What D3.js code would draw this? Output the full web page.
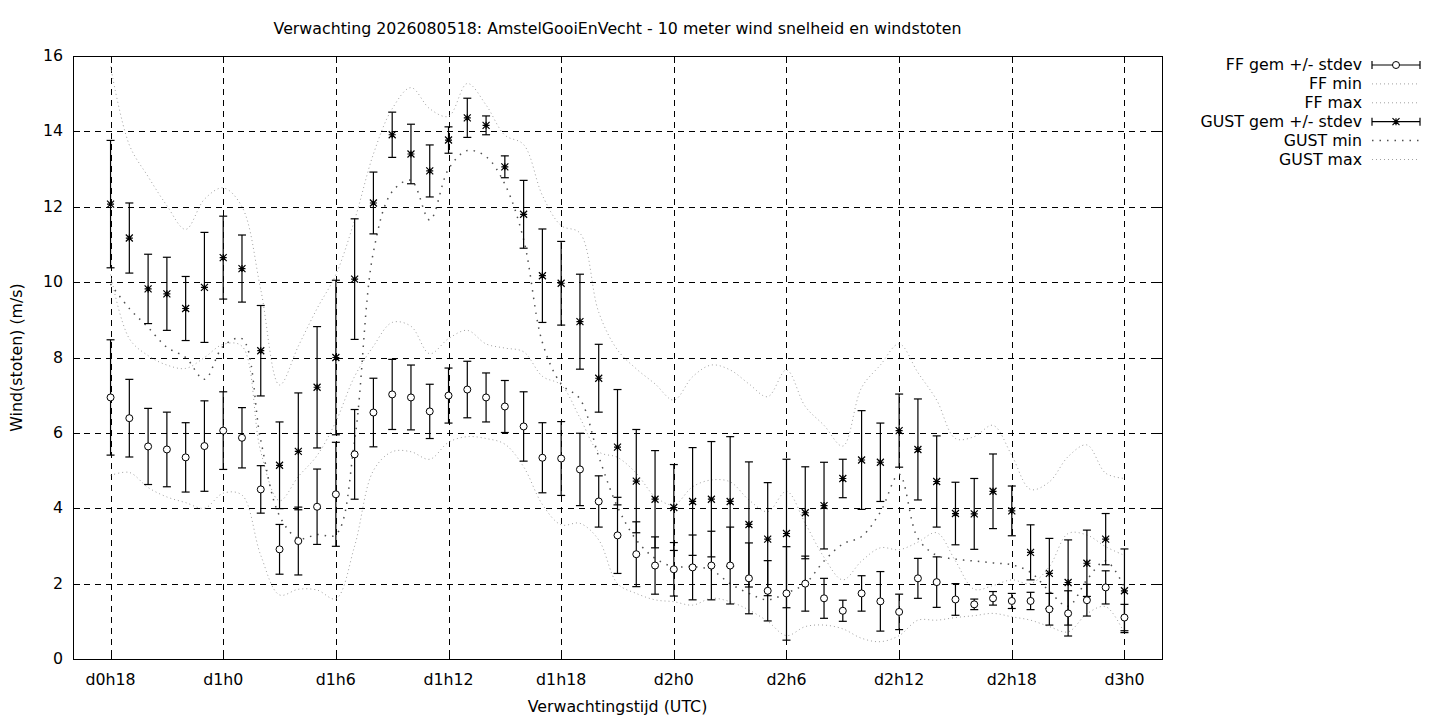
<!DOCTYPE html>
<html lang="en">
  <head>
    <meta charset="UTF-8" />
    <title>wind</title>
    <style>
      body { margin: 0; background: #fff; }
      text { font-family: "DejaVu Sans", sans-serif; font-size: 15.8px; fill: #000; }
    </style>
  </head>
  <body>
    <div id="chart"></div>
    <script src="https://d3js.org/d3.v7.min.js"></script>
    <script>
      // forecast hours 18 .. 72 (one value per hour)
      var hours = d3.range(18, 73);

      var tickHours = [18, 24, 30, 36, 42, 48, 54, 60, 66, 72];
      var tickLabels = ["d0h18", "d1h0", "d1h6", "d1h12", "d1h18", "d2h0", "d2h6", "d2h12", "d2h18", "d3h0"];
      var yTicks = [0, 2, 4, 6, 8, 10, 12, 14, 16];

      var ffMean = [6.94, 6.39, 5.64, 5.56, 5.35, 5.65, 6.06, 5.87, 4.50, 2.91, 3.13, 4.04, 4.37, 5.43, 6.54, 7.02, 6.94, 6.57, 6.99, 7.15,
        6.94, 6.70, 6.17, 5.34, 5.32, 5.03, 4.18, 3.28, 2.78, 2.48, 2.38, 2.43, 2.48, 2.48, 2.14, 1.81, 1.74, 2.0, 1.61, 1.28,
        1.74, 1.53, 1.25, 2.14, 2.04, 1.58, 1.45, 1.61, 1.54, 1.54, 1.32, 1.21, 1.56, 1.9, 1.1];
      var ffSd = [1.53, 1.03, 1.01, 0.99, 0.92, 1.2, 1.03, 0.8, 0.63, 0.66, 0.9, 1.0, 1.38, 1.19, 0.91, 0.93, 0.86, 0.72, 0.73, 0.75,
        0.65, 0.69, 0.92, 0.93, 0.98, 0.96, 0.68, 1.01, 0.86, 0.76, 0.71, 0.86, 0.91, 1.02, 0.94, 0.8, 1.24, 0.73, 0.53, 0.28,
        0.47, 0.79, 0.47, 0.53, 0.67, 0.42, 0.14, 0.18, 0.2, 0.23, 0.42, 0.6, 0.42, 0.44, 0.35];
      var ffMin = [4.87, 4.95, 4.55, 4.3, 4.15, 4.0, 4.4, 4.35, 2.75, 1.7, 1.85, 1.83, 1.6, 3.0, 5.0, 5.5, 5.5, 5.3, 5.75, 5.9,
        5.85, 5.7, 5.1, 4.1, 3.56, 3.6, 3.16, 2.0, 1.74, 1.57, 1.52, 1.43, 1.61, 1.52, 1.3, 1.0, 0.62, 0.86, 0.9, 0.8,
        0.55, 0.46, 0.62, 1.03, 1.03, 1.1, 1.15, 1.21, 1.12, 1.03, 0.86, 0.72, 1.2, 1.39, 0.68];
      var ffMax = [10.2, 8.5, 8.05, 7.8, 7.71, 8.0, 8.35, 8.3, 5.5, 4.2, 4.84, 5.4, 6.3, 7.5, 8.3, 8.93, 8.83, 8.1, 8.5, 8.72,
        8.36, 8.25, 8.15, 7.5, 7.27, 6.4, 5.5, 5.35, 4.93, 4.31, 4.09, 4.57, 4.75, 4.7, 4.22, 3.91, 4.45, 3.6, 2.7, 2.1,
        2.6, 2.95, 2.9, 3.1, 3.35, 2.6, 1.85, 1.95, 2.1, 2.0, 2.45, 3.33, 3.29, 2.98, 2.75];

      var gustMean = [12.07, 11.17, 9.82, 9.69, 9.30, 9.86, 10.65, 10.36, 8.18, 5.14, 5.51, 7.21, 8.0, 10.08, 12.10, 13.91, 13.40, 12.95, 13.77, 14.36,
        14.16, 13.06, 11.80, 10.17, 9.97, 8.95, 7.45, 5.62, 4.72, 4.24, 4.02, 4.18, 4.24, 4.18, 3.57, 3.18, 3.33, 3.88, 4.07, 4.79,
        5.28, 5.22, 6.06, 5.56, 4.71, 3.86, 3.85, 4.45, 3.93, 2.83, 2.27, 2.03, 2.54, 3.18, 1.81];
      var gustSd = [1.69, 0.93, 0.92, 0.97, 0.85, 1.46, 1.1, 0.89, 1.2, 1.15, 1.55, 1.61, 2.05, 1.6, 0.82, 0.6, 0.79, 0.69, 0.35, 0.52,
        0.25, 0.29, 0.9, 1.24, 1.11, 1.26, 0.9, 1.53, 1.37, 1.29, 1.14, 1.43, 1.53, 1.72, 1.66, 1.5, 1.97, 1.22, 1.15, 0.51,
        1.31, 1.04, 0.97, 1.34, 1.21, 0.83, 0.94, 0.99, 0.66, 0.73, 0.93, 1.13, 0.88, 0.68, 1.11];
      var gustMin = [9.95, 9.3, 8.8, 8.27, 8.0, 7.42, 8.3, 8.5, 5.8, 3.8, 3.2, 3.3, 3.3, 5.8, 10.8, 12.4, 12.7, 11.65, 13.0, 13.49,
        13.33, 12.6, 11.13, 8.4, 7.3, 6.9, 5.37, 4.04, 3.16, 2.67, 2.45, 2.45, 2.36, 2.0, 1.74, 1.57, 1.75, 2.0, 2.6, 3.05,
        3.25, 3.9, 4.9, 3.2, 2.75, 2.65, 2.6, 2.55, 2.5, 2.3, 1.8, 1.4, 2.1, 2.6, 1.9];
      var gustMax = [15.72, 13.64, 12.8, 12.03, 11.4, 12.2, 12.5, 12.0, 9.8, 7.27, 8.3, 9.3, 10.2, 11.65, 13.4, 14.6, 15.16, 14.6, 14.4, 15.27,
        14.7, 13.9, 13.65, 12.3, 11.5, 11.3, 9.2, 8.2, 7.7, 7.3, 6.87, 7.49, 7.8, 7.67, 7.3, 6.96, 7.67, 6.7, 6.2, 5.65,
        7.2, 7.8, 8.36, 7.6, 6.87, 5.85, 5.9, 6.2, 5.4, 4.5, 4.7, 5.37, 5.68, 4.93, 4.79];

      var legendLabels = ["FF gem +/- stdev", "FF min", "FF max", "GUST gem +/- stdev", "GUST min", "GUST max"];

      // layout
      var W = 1440, H = 720;
      var plot = { left: 73, right: 1162, top: 56, bottom: 659 };

      var svg = d3.select("#chart").append("svg")
        .attr("width", W)
        .attr("height", H);

      var x = d3.scaleLinear().domain([16, 74]).range([plot.left, plot.right]);
      var y = d3.scaleLinear().domain([0, 16]).range([plot.bottom, plot.top]);

      svg.append("clipPath").attr("id", "clip")
        .append("rect")
        .attr("x", plot.left).attr("y", plot.top)
        .attr("width", plot.right - plot.left).attr("height", plot.bottom - plot.top);

      // grid
      var grid = svg.append("g").attr("stroke", "#000").attr("stroke-width", 1)
        .attr("stroke-dasharray", "6,5").attr("shape-rendering", "crispEdges");
      yTicks.slice(1, -1).forEach(function (v) {
        grid.append("line")
          .attr("x1", plot.left).attr("x2", plot.right)
          .attr("y1", Math.round(y(v)) + 0.5).attr("y2", Math.round(y(v)) + 0.5);
      });
      tickHours.forEach(function (h) {
        grid.append("line")
          .attr("x1", Math.round(x(h)) + 0.5).attr("x2", Math.round(x(h)) + 0.5)
          .attr("y1", plot.top).attr("y2", plot.bottom);
      });

      // min / max curves
      var line = d3.line()
        .x(function (d, i) { return x(hours[i]); })
        .y(function (d) { return y(d); })
        .curve(d3.curveCatmullRom.alpha(0.5));

      var curves = [
        { data: ffMin, color: "#a0a0a0", dash: "1,3", width: 1 },
        { data: ffMax, color: "#a0a0a0", dash: "1,3", width: 1 },
        { data: gustMin, color: "#505050", dash: "1.5,6", width: 1.5 },
        { data: gustMax, color: "#a0a0a0", dash: "1,3", width: 1 }
      ];
      var curveG = svg.append("g").attr("clip-path", "url(#clip)");
      curves.forEach(function (c) {
        curveG.append("path")
          .attr("d", line(c.data))
          .attr("fill", "none")
          .attr("stroke", c.color)
          .attr("stroke-width", c.width)
          .attr("stroke-dasharray", c.dash);
      });

      // error bars
      function errorBars(g, mean, sd) {
        hours.forEach(function (h, i) {
          var cx = x(h);
          var y0 = y(mean[i] - sd[i]), y1 = y(mean[i] + sd[i]);
          g.append("line").attr("x1", cx).attr("x2", cx).attr("y1", y0).attr("y2", y1);
          g.append("line").attr("x1", cx - 4).attr("x2", cx + 4).attr("y1", y0).attr("y2", y0);
          g.append("line").attr("x1", cx - 4).attr("x2", cx + 4).attr("y1", y1).attr("y2", y1);
        });
      }
      var barsG = svg.append("g").attr("stroke", "#000").attr("stroke-width", 1.2);
      errorBars(barsG, ffMean, ffSd);
      errorBars(barsG, gustMean, gustSd);

      function star(g, cx, cy) {
        var s = 3.5;
        g.append("path")
          .attr("d", "M" + (cx - s) + "," + cy + "H" + (cx + s) +
            "M" + cx + "," + (cy - s) + "V" + (cy + s) +
            "M" + (cx - s) + "," + (cy - s) + "L" + (cx + s) + "," + (cy + s) +
            "M" + (cx - s) + "," + (cy + s) + "L" + (cx + s) + "," + (cy - s))
          .attr("stroke", "#000").attr("stroke-width", 1.2);
      }
      function circle(g, cx, cy) {
        g.append("circle").attr("cx", cx).attr("cy", cy).attr("r", 3.5)
          .attr("fill", "#fff").attr("stroke", "#000").attr("stroke-width", 1);
      }

      var ptsG = svg.append("g");
      hours.forEach(function (h, i) {
        circle(ptsG, x(h), y(ffMean[i]));
        star(ptsG, x(h), y(gustMean[i]));
      });

      // border
      svg.append("rect")
        .attr("x", plot.left + 0.5).attr("y", plot.top + 0.5)
        .attr("width", plot.right - plot.left).attr("height", plot.bottom - plot.top)
        .attr("fill", "none").attr("stroke", "#000").attr("stroke-width", 1)
        .attr("shape-rendering", "crispEdges");

      // tick marks (mirrored, inward)
      var ticksG = svg.append("g").attr("stroke", "#000").attr("shape-rendering", "crispEdges");
      yTicks.forEach(function (v) {
        var yy = Math.round(y(v)) + 0.5;
        ticksG.append("line").attr("x1", plot.left).attr("x2", plot.left + 7).attr("y1", yy).attr("y2", yy);
        ticksG.append("line").attr("x1", plot.right - 7).attr("x2", plot.right).attr("y1", yy).attr("y2", yy);
      });
      tickHours.forEach(function (h) {
        var xx = Math.round(x(h)) + 0.5;
        ticksG.append("line").attr("x1", xx).attr("x2", xx).attr("y1", plot.bottom).attr("y2", plot.bottom - 7);
        ticksG.append("line").attr("x1", xx).attr("x2", xx).attr("y1", plot.top).attr("y2", plot.top + 7);
      });

      // tick labels
      yTicks.forEach(function (v) {
        svg.append("text")
          .attr("x", plot.left - 10).attr("y", y(v) + 5)
          .attr("text-anchor", "end")
          .text(v);
      });
      tickHours.forEach(function (h, i) {
        svg.append("text")
          .attr("x", x(h)).attr("y", 685)
          .attr("text-anchor", "middle")
          .text(tickLabels[i]);
      });

      // titles
      svg.append("text")
        .attr("x", (plot.left + plot.right) / 2).attr("y", 34)
        .attr("text-anchor", "middle")
        .text("Verwachting 2026080518: AmstelGooiEnVecht - 10 meter wind snelheid en windstoten");
      svg.append("text")
        .attr("x", (plot.left + plot.right) / 2).attr("y", 712)
        .attr("text-anchor", "middle")
        .text("Verwachtingstijd (UTC)");
      svg.append("text")
        .attr("transform", "translate(22," + (plot.top + plot.bottom) / 2 + ")rotate(-90)")
        .attr("text-anchor", "middle")
        .text("Wind(stoten) (m/s)");

      // legend
      var legend = svg.append("g");
      var lx0 = 1372, lx1 = 1420;
      legendLabels.forEach(function (lab, i) {
        var ly = 65 + i * 18.9;
        legend.append("text")
          .attr("x", 1362).attr("y", ly + 5)
          .attr("text-anchor", "end")
          .text(lab);
        if (i === 0 || i === 3) {
          var g = legend.append("g").attr("stroke", "#000").attr("stroke-width", 1.2);
          g.append("line").attr("x1", lx0).attr("x2", lx1).attr("y1", ly).attr("y2", ly);
          g.append("line").attr("x1", lx0).attr("x2", lx0).attr("y1", ly - 4).attr("y2", ly + 4);
          g.append("line").attr("x1", lx1).attr("x2", lx1).attr("y1", ly - 4).attr("y2", ly + 4);
          if (i === 0) circle(legend, (lx0 + lx1) / 2, ly);
          else star(legend, (lx0 + lx1) / 2, ly);
        } else {
          var c = curves[[0, 1, 0, 0, 2, 3][i]];
          legend.append("line")
            .attr("x1", lx0).attr("x2", lx1).attr("y1", ly).attr("y2", ly)
            .attr("stroke", c.color).attr("stroke-width", c.width)
            .attr("stroke-dasharray", c.dash);
        }
      });
    </script>
  </body>
</html>
